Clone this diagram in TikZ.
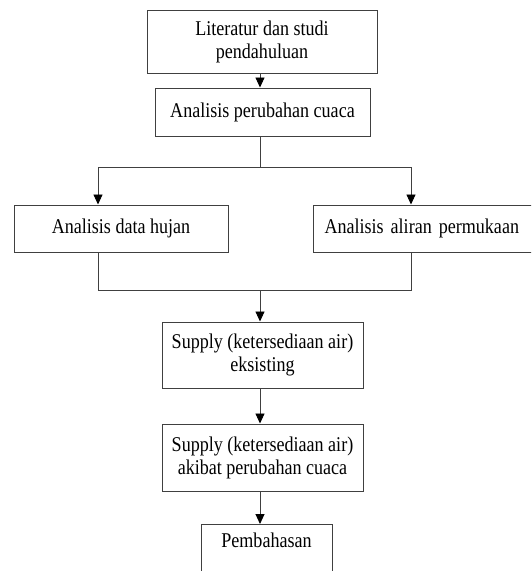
\documentclass[tikz,border=0pt]{standalone}
\usepackage{fontspec}
\setmainfont{Liberation Serif}[FakeStretch=0.86]
\usetikzlibrary{arrows.meta}
\begin{document}
\begin{tikzpicture}[x=1pt,y=-1pt,
  box/.style={draw=black!75,line width=1pt,fill=white,align=center,
    font=\fontsize{21pt}{23pt}\selectfont,inner sep=0pt},
  conn/.style={draw=black!75,line width=0.9pt},
  arr/.style={conn,-{Triangle[width=9pt,length=10pt,fill=black,color=black]}}]
\useasboundingbox (0,0) rectangle (531,571);
\clip (0,0) rectangle (531,571);
\fill[white] (0,0) rectangle (531,571);
\node[box,minimum width=230pt,minimum height=63pt] (b1) at (262,41.5) {Literatur dan studi\\pendahuluan};
\node[box,minimum width=215pt,minimum height=48pt] (b2) at (262.5,112) {Analisis perubahan cuaca};
\node[box,minimum width=214pt,minimum height=47pt] (bl) at (121,228.5) {Analisis data hujan};
\node[box,anchor=west,text width=222pt,align=left,inner xsep=11pt,minimum height=47pt] (br) at (313,228.5) {Analisis aliran permukaan};
\node[box,minimum width=201pt,minimum height=66pt] (b3) at (262.5,355) {Supply (ketersediaan air)\\eksisting};
\node[box,minimum width=201pt,minimum height=67pt] (b4) at (262.5,457.5) {Supply (ketersediaan air)\\akibat perubahan cuaca};
\node[box,anchor=north,minimum width=131pt,text height=15pt,text depth=45pt,inner ysep=8pt] (b5) at (266.5,524) {Pembahasan};
\coordinate (cx) at (260,0);
\coordinate (lx) at (98,0);
\coordinate (rx) at (411,0);
\coordinate (top) at (0,167);
\coordinate (bot) at (0,290);
\draw[arr] (b1.south -| cx) -- (b2.north -| cx);
\draw[conn] (b2.south -| cx) -- (top -| cx);
\draw[conn] (top -| lx) -- (top -| rx);
\draw[arr] (top -| lx) -- (bl.north -| lx);
\draw[arr] (top -| rx) -- (br.north -| rx);
\draw[conn] (bl.south -| lx) -- (bot -| lx) -- (bot -| rx) -- (br.south -| rx);
\draw[arr] (bot -| cx) -- (b3.north -| cx);
\draw[arr] (b3.south -| cx) -- (b4.north -| cx);
\draw[arr] (b4.south -| cx) -- (b5.north -| cx);
\end{tikzpicture}
\end{document}
